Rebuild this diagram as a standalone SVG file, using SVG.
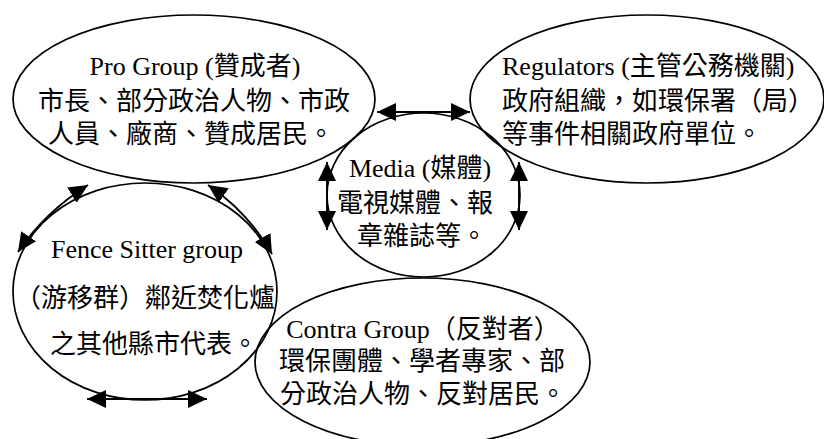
<svg xmlns="http://www.w3.org/2000/svg" width="824" height="439" viewBox="0 0 824 439">
<style>
.node ellipse{fill:none;stroke:#000;stroke-width:1.7}
text{font-family:"Liberation Serif","Noto Sans CJK TC","Noto Sans CJK SC",serif;font-size:26px;fill:#000}
.c{text-anchor:middle}
.conn path{fill:none;stroke:#000;stroke-width:2}
</style>
<defs>
<marker id="ah" markerUnits="userSpaceOnUse" markerWidth="20" markerHeight="20" viewBox="0 0 20 20" refX="19" refY="10" orient="auto-start-reverse">
<path d="M0,1 L19,10 L0,19 Z" fill="#000"/>
</marker>
</defs>
<rect width="824" height="439" fill="#fff"/>
<g id="pro" class="node">
<ellipse cx="194" cy="99" rx="181" ry="84"/>
<text class="c" x="195" y="75">Pro Group (贊成者)</text>
<text class="c" x="194" y="110">市長、部分政治人物、市政</text>
<text class="c" x="191" y="143">人員、廠商、贊成居民。</text>
</g>
<g id="regulators" class="node">
<ellipse cx="647" cy="99" rx="177" ry="84"/>
<text x="502" y="75">Regulators (主管公務機關)</text>
<text x="502" y="110">政府組織，如環保署（局）</text>
<text x="502" y="143">等事件相關政府單位。</text>
</g>
<g id="media" class="node">
<ellipse cx="423.5" cy="195" rx="96.5" ry="82"/>
<text class="c" x="420" y="177">Media (媒體)</text>
<text class="c" x="415" y="212">電視媒體、報</text>
<text class="c" x="422" y="245">章雜誌等。</text>
</g>
<g id="fence" class="node">
<ellipse cx="145" cy="291.5" rx="132" ry="108.5"/>
<text class="c" x="147" y="258">Fence Sitter group</text>
<text class="c" x="145" y="307">（游移群）鄰近焚化爐</text>
<text class="c" x="154" y="353">之其他縣市代表。</text>
</g>
<g id="contra" class="node">
<ellipse cx="422.5" cy="362" rx="167.5" ry="84"/>
<text class="c" x="423" y="338">Contra Group（反對者）</text>
<text class="c" x="422" y="370">環保團體、學者專家、部</text>
<text class="c" x="423" y="403">分政治人物、反對居民。</text>
</g>
<g id="connectors" class="conn">
<path d="M377,112 L470,112" marker-start="url(#ah)" marker-end="url(#ah)"/>
<path d="M327,162 L327,230" marker-start="url(#ah)" marker-end="url(#ah)"/>
<path d="M519,162 L519,230" marker-start="url(#ah)" marker-end="url(#ah)"/>
<path d="M88,185 Q45,212 18,252" marker-start="url(#ah)" marker-end="url(#ah)"/>
<path d="M208,185 Q248,212 272,254" marker-start="url(#ah)" marker-end="url(#ah)"/>
<path d="M87,399 L207,399" marker-start="url(#ah)" marker-end="url(#ah)"/>
</g>
</svg>
